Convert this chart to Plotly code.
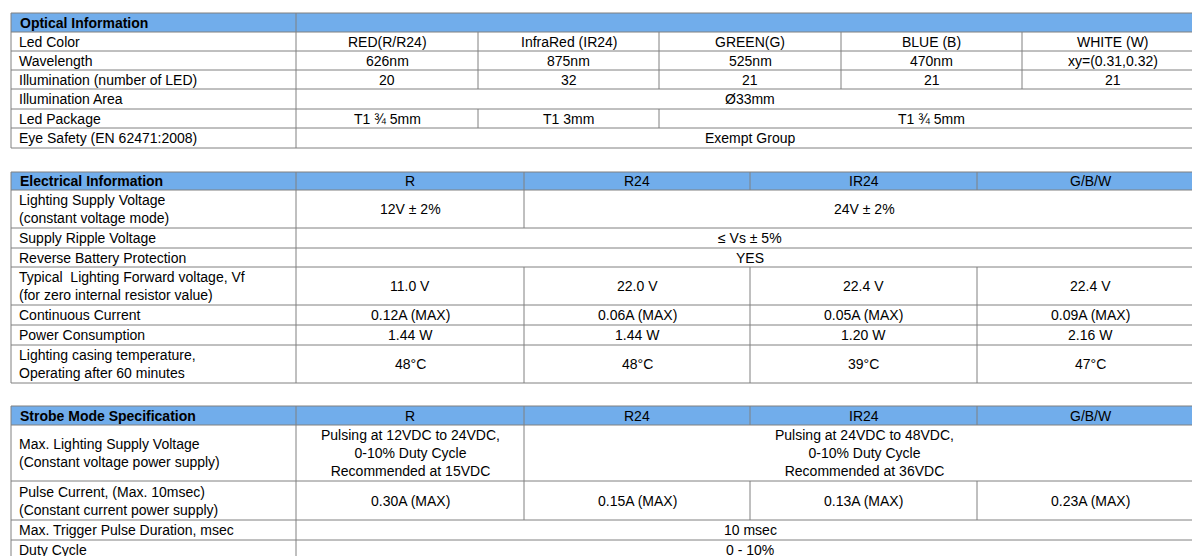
import plotly.graph_objects as go

# --- data ---
optical_title = "Optical Information"
optical_rows = [
    ("Led Color", [("RED(R/R24)", 1), ("InfraRed (IR24)", 1), ("GREEN(G)", 1), ("BLUE (B)", 1), ("WHITE (W)", 1)]),
    ("Wavelength", [("626nm", 1), ("875nm", 1), ("525nm", 1), ("470nm", 1), ("xy=(0.31,0.32)", 1)]),
    ("Illumination (number of LED)", [("20", 1), ("32", 1), ("21", 1), ("21", 1), ("21", 1)]),
    ("Illumination Area", [("Ø33mm", 5)]),
    ("Led Package", [("T1 ¾ 5mm", 1), ("T1 3mm", 1), ("T1 ¾ 5mm", 3)]),
    ("Eye Safety (EN 62471:2008)", [("Exempt Group", 5)]),
]

electrical_title = "Electrical Information"
electrical_cols = ["R", "R24", "IR24", "G/B/W"]
electrical_rows = [
    ("Lighting Supply Voltage<br>(constant voltage mode)", [("12V ± 2%", 1), ("24V ± 2%", 3)]),
    ("Supply Ripple Voltage", [("≤ Vs ± 5%", 4)]),
    ("Reverse Battery Protection", [("YES", 4)]),
    ("Typical  Lighting Forward voltage, Vf<br>(for zero internal resistor value)",
     [("11.0 V", 1), ("22.0 V", 1), ("22.4 V", 1), ("22.4 V", 1)]),
    ("Continuous Current", [("0.12A (MAX)", 1), ("0.06A (MAX)", 1), ("0.05A (MAX)", 1), ("0.09A (MAX)", 1)]),
    ("Power Consumption", [("1.44 W", 1), ("1.44 W", 1), ("1.20 W", 1), ("2.16 W", 1)]),
    ("Lighting casing temperature,<br>Operating after 60 minutes",
     [("48°C", 1), ("48°C", 1), ("39°C", 1), ("47°C", 1)]),
]

strobe_title = "Strobe Mode Specification"
strobe_cols = ["R", "R24", "IR24", "G/B/W"]
strobe_rows = [
    ("Max. Lighting Supply Voltage<br>(Constant voltage power supply)",
     [("Pulsing at 12VDC to 24VDC,<br>0-10% Duty Cycle<br>Recommended at 15VDC", 1),
      ("Pulsing at 24VDC to 48VDC,<br>0-10% Duty Cycle<br>Recommended at 36VDC", 3)]),
    ("Pulse Current, (Max. 10msec)<br>(Constant current power supply)",
     [("0.30A (MAX)", 1), ("0.15A (MAX)", 1), ("0.13A (MAX)", 1), ("0.23A (MAX)", 1)]),
    ("Max. Trigger Pulse Duration, msec", [("10 msec", 4)]),
    ("Duty Cycle", [("0 - 10%", 4)]),
]

# --- layout geometry ---
X0, XL, X1 = 3, 288, 1196
grid5 = [288, 470, 651, 833, 1014, 1196]
grid4 = [288, 516, 742, 969, 1196]
HEADER_BLUE = "#71ADEB"
LINE = "#808080"
FONT = "Liberation Sans, Arial, sans-serif"

sections = [
    (optical_title, [""], [X0, XL, X1], optical_rows, grid5,
     [5, 24, 43, 62, 81, 101, 120, 140]),
    (electrical_title, electrical_cols, [X0] + grid4, electrical_rows, grid4,
     [164, 182, 220, 240, 259, 297, 317, 337, 375]),
    (strobe_title, strobe_cols, [X0] + grid4, strobe_rows, grid4,
     [398, 417, 473, 512, 532, 551]),
]

shapes = []
annotations = []


def vline(x, y0, y1):
    shapes.append(dict(type="line", x0=x, x1=x, y0=y0, y1=y1, line=dict(color=LINE, width=1)))


def hline(y):
    shapes.append(dict(type="line", x0=X0, x1=X1, y0=y, y1=y, line=dict(color=LINE, width=1)))


def text(x, y, s, anchor="center", bold=False):
    annotations.append(dict(x=x, y=y, text=f"<b>{s}</b>" if bold else s, showarrow=False,
                            xanchor=anchor, yanchor="middle", align=anchor,
                            font=dict(family=FONT, size=14, color="black")))


for title, head_cols, head_grid, rows, grid, ys in sections:
    # header band
    shapes.append(dict(type="rect", x0=X0, x1=X1, y0=ys[0], y1=ys[1],
                       fillcolor=HEADER_BLUE, line=dict(width=0), layer="below"))
    ym = (ys[0] + ys[1]) / 2
    text(X0 + 7, ym, title, anchor="left", bold=True)
    for i, c in enumerate(head_cols):
        xa, xb = head_grid[i + 1], head_grid[i + 2]
        if c:
            text((xa + xb) / 2, ym, c)
    for x in head_grid:
        vline(x, ys[0], ys[1])
    for y in ys:
        hline(y)
    # body
    for r, (label, cells) in enumerate(rows):
        y0, y1 = ys[r + 1], ys[r + 2]
        ym = (y0 + y1) / 2
        text(X0 + 6, ym, label, anchor="left")
        vline(X0, y0, y1)
        vline(XL, y0, y1)
        vline(X1, y0, y1)
        k = 0
        for s, span in cells:
            xa, xb = grid[k], grid[k + span]
            text((xa + xb) / 2, ym, s)
            if k > 0:
                vline(xa, y0, y1)
            k += span

fig = go.Figure()
fig.update_layout(
    width=1200, height=556,
    margin=dict(l=0, r=0, t=0, b=0),
    paper_bgcolor="white", plot_bgcolor="white",
    xaxis=dict(range=[0, 1200], visible=False, fixedrange=True),
    yaxis=dict(range=[556, 0], visible=False, fixedrange=True),
    shapes=shapes, annotations=annotations, showlegend=False,
)
fig.write_html("out.html")
